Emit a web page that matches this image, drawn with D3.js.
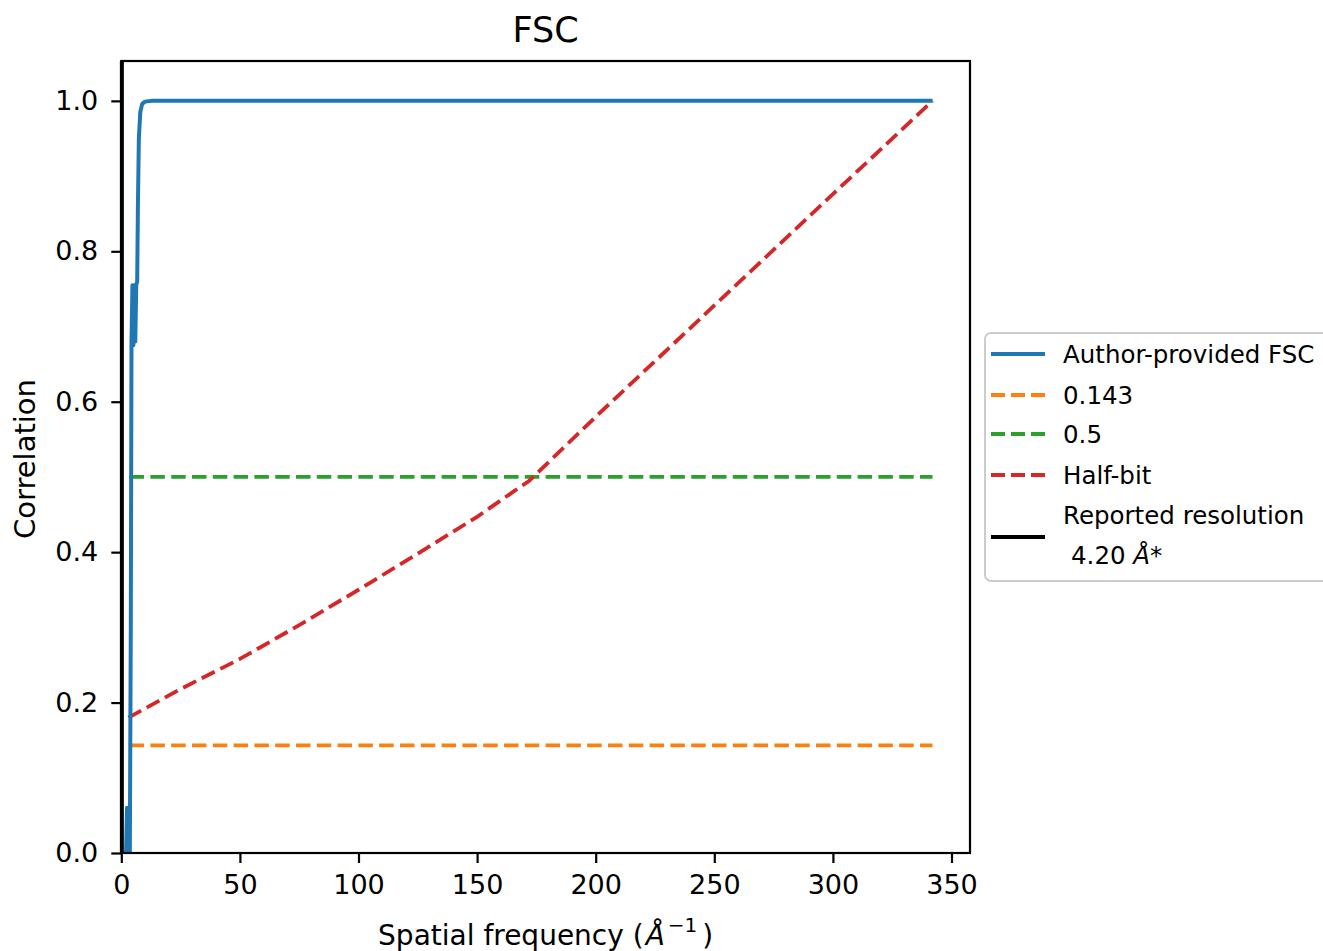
<!DOCTYPE html>
<html><head><meta charset="utf-8">
<script src="https://cdn.jsdelivr.net/npm/d3@7"></script>
<style>
body{margin:0;background:#fff;}
text{font-family:"DejaVu Sans",sans-serif;fill:#000;}
</style></head>
<body><svg id="chart" width="1323" height="951"></svg>
<script>
// ---- data ----
const fscX = [2.0, 2.4, 2.8, 3.2, 3.6, 4.0, 4.3, 4.7, 5.1, 5.5, 5.9, 6.3, 6.7, 7.0, 7.4, 8.0, 8.8, 10, 13, 22, 60, 150, 250, 342];
const fscY = [0.0, 0.06, 0.0, 0.06, 0.0, 0.3, 0.68, 0.755, 0.675, 0.755, 0.68, 0.755, 0.76, 0.86, 0.95, 0.985, 0.996, 0.999, 1.0, 1.0, 1.0, 1.0, 1.0, 1.0];
const halfBitX = [3, 25, 50, 75, 100, 125, 150, 172, 200, 250, 300, 342];
const halfBitY = [0.18, 0.218, 0.258, 0.303, 0.35, 0.398, 0.447, 0.495, 0.58, 0.728, 0.876, 1.0];
const thresholdX = [3.5, 342];
const threshold0143 = [0.143, 0.143];
const threshold05 = [0.5, 0.5];
const reportedRes = 4.20;
const xTicks = [0, 50, 100, 150, 200, 250, 300, 350];
const yTicks = [0.0, 0.2, 0.4, 0.6, 0.8, 1.0];
const legendLabels = ["Author-provided FSC", "0.143", "0.5", "Half-bit"];

// ---- layout ----
const svg = d3.select("#chart");
const L = 121.3, R = 970, T = 61, B = 853;
const x = d3.scaleLinear().domain([0, 357.8]).range([L, R]);
const y = d3.scaleLinear().domain([0, 1.053]).range([B, T]);
const colors = {fsc:"#1f77b4", o:"#ff7f0e", g:"#2ca02c", r:"#d62728"};
const dash = "14.5,6.3";

const line = d3.line().x(d => x(d[0])).y(d => y(d[1]));
const g = svg.append("g");

svg.append("clipPath").attr("id","clip").append("rect")
  .attr("x", L).attr("y", T).attr("width", R-L).attr("height", B-T);
const plot = g.append("g").attr("clip-path","url(#clip)");

plot.append("path").datum(thresholdX.map((v,i)=>[v,threshold0143[i]]))
  .attr("d", line).attr("fill","none").attr("stroke",colors.o).attr("stroke-width",3.8).attr("stroke-dasharray",dash);
plot.append("path").datum(thresholdX.map((v,i)=>[v,threshold05[i]]))
  .attr("d", line).attr("fill","none").attr("stroke",colors.g).attr("stroke-width",3.8).attr("stroke-dasharray",dash);
plot.append("path").datum(halfBitX.map((v,i)=>[v,halfBitY[i]]))
  .attr("d", line).attr("fill","none").attr("stroke",colors.r).attr("stroke-width",3.8).attr("stroke-dasharray",dash);
plot.append("path").datum(fscX.map((v,i)=>[v,fscY[i]]))
  .attr("d", line).attr("fill","none").attr("stroke",colors.fsc).attr("stroke-width",4).attr("stroke-linejoin","round");
g.append("line").attr("x1", x(1/reportedRes)).attr("x2", x(1/reportedRes))
  .attr("y1", y(0)).attr("y2", y(1.053)).attr("stroke","#000").attr("stroke-width",4);

// axes
const xAxis = d3.axisBottom(x).tickValues(xTicks).tickFormat(d3.format("d")).tickSize(10).tickPadding(12);
const yAxis = d3.axisLeft(y).tickValues(yTicks).tickFormat(d3.format(".1f")).tickSize(10).tickPadding(13);
const gx = g.append("g").attr("transform",`translate(0,${B})`).call(xAxis);
const gy = g.append("g").attr("transform",`translate(${L},0)`).call(yAxis);
[gx, gy].forEach(a => {
  a.select(".domain").remove();
  a.selectAll(".tick line").attr("stroke","#000").attr("stroke-width",2.2);
  a.selectAll(".tick text").attr("font-size",27).attr("font-family","DejaVu Sans").attr("fill","#1a1a1a");
});
g.append("rect").attr("x",L).attr("y",T).attr("width",R-L).attr("height",B-T)
  .attr("fill","none").attr("stroke","#000").attr("stroke-width",2.2);

// title
svg.append("text").attr("x",(L+R)/2).attr("y",42).attr("text-anchor","middle")
  .attr("font-size",35).text("FSC");
// x label
const xl = svg.append("text").attr("x",(L+R)/2).attr("y",945).attr("text-anchor","middle").attr("font-size",28).attr("fill","#1a1a1a");
xl.append("tspan").text("Spatial frequency (");
xl.append("tspan").attr("font-style","italic").attr("dx",2).text("Å");
xl.append("tspan").attr("font-size",20).attr("dy",-13).attr("dx",3).text("\u22121");
xl.append("tspan").attr("dy",13).attr("dx",5).text(")");
// y label
svg.append("text").attr("transform",`translate(35,${(T+B)/2+2}) rotate(-90)`)
  .attr("text-anchor","middle").attr("font-size",29).attr("fill","#1a1a1a").text("Correlation");

// legend
const lg = svg.append("g");
lg.append("rect").attr("x",985).attr("y",333).attr("width",350).attr("height",248).attr("rx",6)
  .attr("fill","#fff").attr("fill-opacity",0.8).attr("stroke","#cccccc").attr("stroke-width",2);
const rows = [
  {label:legendLabels[0], c:colors.fsc, d:null, y:354},
  {label:legendLabels[1], c:colors.o, d:"14,6", y:395},
  {label:legendLabels[2], c:colors.g, d:"14,6", y:434},
  {label:legendLabels[3], c:colors.r, d:"14,6", y:475},
];
rows.forEach(r => {
  lg.append("line").attr("x1",991).attr("x2",1045).attr("y1",r.y).attr("y2",r.y)
    .attr("stroke",r.c).attr("stroke-width",r.d?3.8:4).attr("stroke-dasharray",r.d);
  lg.append("text").attr("x",1063).attr("y",r.y).attr("dy","0.36em").attr("font-size",24.5)
    .attr("fill","#1a1a1a").text(r.label);
});
lg.append("line").attr("x1",991).attr("x2",1045).attr("y1",537).attr("y2",537)
  .attr("stroke","#000").attr("stroke-width",4);
lg.append("text").attr("x",1063).attr("y",515).attr("dy","0.36em").attr("font-size",24.5).attr("fill","#1a1a1a")
  .text("Reported resolution");
const t6 = lg.append("text").attr("x",1071).attr("y",555).attr("dy","0.36em").attr("font-size",24.5).attr("fill","#1a1a1a");
t6.append("tspan").text("4.20 ");
t6.append("tspan").attr("font-style","italic").text("Å");
t6.append("tspan").text("*");
</script></body></html>
